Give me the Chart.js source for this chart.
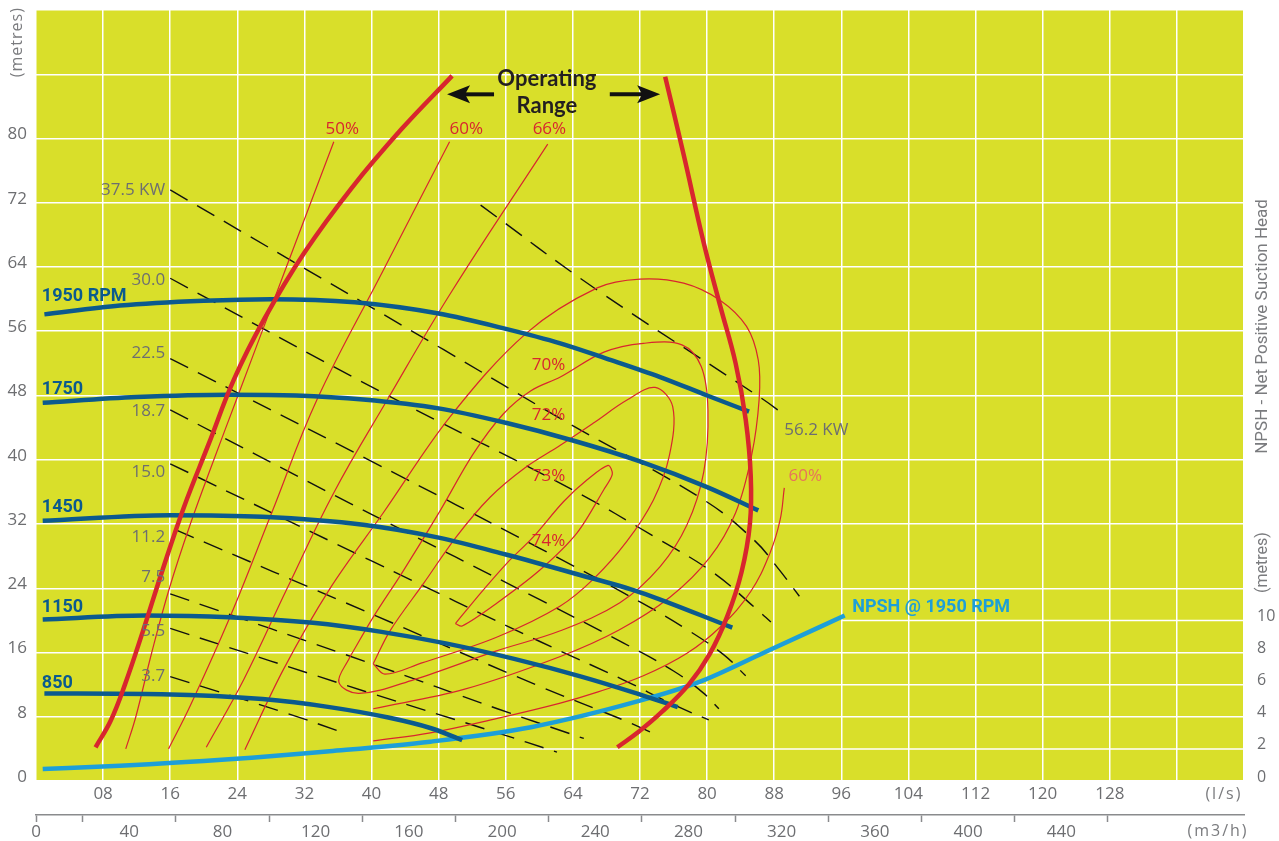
<!DOCTYPE html>
<html>
<head>
<meta charset="utf-8">
<title>Pump performance curve</title>
<script src="https://cdn.jsdelivr.net/npm/chart.js@4.4.1/dist/chart.umd.min.js"></script>
<style>
  html, body { margin: 0; padding: 0; background: #fff; }
  canvas { display: block; }
</style>
</head>
<body>
<canvas id="pump" width="1279" height="841"></canvas>
<script>
// axis ticks
const lsTicks   = [8, 16, 24, 32, 40, 48, 56, 64, 72, 80, 88, 96, 104, 112, 120, 128];
const m3hTicks  = [0, 40, 80, 120, 160, 200, 240, 280, 320, 360, 400, 440];
const m3hMarks  = [0, 20, 60, 100, 140, 180, 220, 260, 300, 340, 380, 420, 460];
const headTicks = [0, 8, 16, 24, 32, 40, 48, 56, 64, 72, 80];
const npshTicks = [0, 2, 4, 6, 8, 10];

// head curves, [flow l/s, head m]
const rpm1950 = [[1,58.1],[10,59.2],[20,59.8],[28,60],[38,59.6],[48,58.2],[56,56.3],[62.5,54.5],[68,52.6],[74.4,50.3],[80,48],[85,46]];
const rpm1750 = [[0.8,47.1],[12,47.8],[23,48.1],[31,48],[39,47.5],[48,46.4],[56,44.6],[64,42.4],[72,39.8],[80,36.6],[86.1,33.7]];
const rpm1450 = [[0.8,32.4],[16,33.1],[27,32.9],[39,31.9],[48,30.3],[56,28.2],[64,25.9],[72,23.5],[83,19.1]];
const rpm1150 = [[0.8,20.1],[13,20.6],[23,20.4],[33,19.7],[41,18.6],[49,17.1],[57,15.2],[65,13],[71,11.1],[76.5,9.2]];
const rpm850  = [[1,10.9],[15,10.8],[27,10.2],[35,9.2],[42,7.9],[47,6.6],[50.8,5.1]];

// NPSH @ 1950 rpm, [flow l/s, NPSH m]
const npsh1950 = [[0.8,0.75],[10,0.95],[23,1.35],[35,1.85],[47,2.45],[59,3.35],[72,5],[79,6.15],[87,8.05],[96.4,10.3]];

// operating range limits
const opLeft  = [[49.6,87.8],[43.6,81.2],[37.6,73.8],[32,65.8],[27.2,57.5],[23.6,50],[20.6,42],[17.6,34],[15,26],[12.7,18.5],[10.6,12],[8.9,7.5],[7.1,4.2]];
const opRight = [[75,87.7],[77.2,78],[79.6,67],[81.6,59],[83.4,52],[84.6,45],[85.2,38],[85.1,32],[84.1,26],[82.4,20.5],[80.3,15.8],[77.8,12],[74.6,8.6],[71.8,6.1],[69.3,4.2]];

// efficiency contours
const eff50  = [[35.5,79.6],[29.7,63.6],[23.9,47.5],[21.2,40],[18.4,32],[15.9,24],[13.8,16],[11.9,8],[10.7,4]];
const eff60  = [[49.3,79.6],[41.4,63.6],[33.5,47.5],[28.1,33.4],[23.2,20.6],[18.4,9.4],[15.8,4]];
const eff66  = [[61,79.3],[49.4,60.7],[41.9,47.5],[35.5,35.9],[29.9,23.9],[24.8,12.7],[20.3,4.2]];
const eff70  = [[24.9,3.9],[29.5,13.9],[35,23.9],[41.4,33.4],[49.4,45.4],[58.5,55.8],[66.9,61.4],[72,62.5],[77.2,62],[81.5,59.9],[84.7,56.6],[86.1,52.4],[86.2,47.5],[85.3,40.5],[83.4,33.4],[80.3,27.8],[75.6,22.9],[69.5,18.8],[62.5,15.5],[51,11.4],[40.2,9]];
const eff72  = [[37.4,15.4],[40.2,20.4],[43.8,26.2],[48.2,33.7],[52.1,40.7],[55.7,45.7],[59,48.6],[62.5,50.3],[67.7,53.4],[72.4,54.5],[77,54.3],[79.3,51.6],[80.1,46.2],[79.6,38.5],[77.6,31.9],[74.4,26.7],[69.6,22.2],[62.5,18.7],[54.9,16.2],[45,12.6],[38.5,10.9],[36.1,12.3],[37.4,15.4]];
const eff73  = [[40.2,14.6],[42.2,18.7],[46.2,24.6],[50.1,30.4],[54.1,35.3],[58.3,39],[62.5,41.8],[66.5,44.6],[70.4,47.4],[73.8,49],[75.9,46.6],[75.5,40.5],[73.6,35],[70.4,29.8],[66.5,25.2],[62.5,21.8],[54.9,17.9],[46,14.7],[41.6,13.3],[40.2,14.6]];
const eff74  = [[50,19.6],[53,23.4],[56.2,27.2],[59.2,30.3],[62.9,34.8],[65.7,37.5],[68.2,39.3],[68.7,38.2],[67.7,36.3],[64.5,30.9],[60.1,26.3],[55,22.2],[50.8,19.3],[50,19.6]];
const eff60r = [[40.2,5],[47,6],[55,7.8],[62.5,9.7],[67,11.1],[72.4,13.1],[77.6,15.9],[81.6,19.2],[85.2,23.6],[87.5,28.4],[88.7,32.5],[89.2,36.5]];

// absorbed power lines (kW)
const kw56 = [[53,71.7],[66.8,61.2],[86.7,47.5],[89.2,45.6]];
const kw37 = [[16,73.6],[48.6,53.7],[62.9,44.9],[79.6,35],[85.6,30],[88.3,26.7],[91,23]];
const kw30 = [[16,62.6],[41.4,48.3],[63.7,36.4],[74.4,30],[80.8,25.9],[86,21.3],[87.6,19.8]];
const kw22 = [[16,52.6],[40,39.8],[60,29],[72,22.3],[78,18.6],[82,15.7],[84.6,13.1]];
const kw18 = [[16,46.2],[40,33.2],[60,22.6],[70,17.2],[76,13.7],[79.5,11],[81.4,9]];
const kw15 = [[16,39.5],[40,27.4],[60,17.4],[70,12.6],[76,9.5],[80.2,7.6]];
const kw11 = [[16.6,31.3],[40,20.8],[60,11.8],[70,7.6],[74.3,5.6]];
const kw7  = [[16,23.3],[40,14.6],[55,9],[65.3,5.3]];
const kw5  = [[16,19],[40,10.9],[55,6],[62.1,3.6]];
const kw3  = [[16,13],[30,8.4],[36.4,6.1]];

const plotFill = '#d9df2a';
const red = '#d8262e';
const navy = '#0b5a8e';
const sky = '#1d9fd8';
const grey = '#6d6e71';
const sans = '"Open Sans", sans-serif';

function curve(points, color, width, extra) {
  return Object.assign({
    data: points.map(([x, y]) => ({ x, y })),
    showLine: true,
    borderColor: color,
    borderWidth: width,
    pointRadius: 0,
    tension: 0.4,
    fill: false
  }, extra || {});
}

const dash = { borderDash: [20, 11] };
const smooth = { cubicInterpolationMode: 'monotone' };
const datasets = [
  curve(opLeft, red, 4.5),
  curve(opRight, red, 4.5),
  curve(rpm1950, navy, 4.5, smooth),
  curve(rpm1750, navy, 4.5, smooth),
  curve(rpm1450, navy, 4.5, smooth),
  curve(rpm1150, navy, 4.5, smooth),
  curve(rpm850, navy, 4.5, smooth),
  curve(npsh1950, sky, 4.5, Object.assign({ yAxisID: 'y2' }, smooth)),
  curve(eff50, red, 1.2),
  curve(eff60, red, 1.2),
  curve(eff66, red, 1.2),
  curve(eff70, red, 1.2, { tension: 0.35 }),
  curve(eff72, red, 1.2, { tension: 0.35 }),
  curve(eff73, red, 1.2, { tension: 0.35 }),
  curve(eff74, red, 1.2, { tension: 0.3 }),
  curve(eff60r, red, 1.2),
  curve(kw56, '#111', 1.4, dash),
  curve(kw37, '#111', 1.4, dash),
  curve(kw30, '#111', 1.4, dash),
  curve(kw22, '#111', 1.4, dash),
  curve(kw18, '#111', 1.4, dash),
  curve(kw15, '#111', 1.4, dash),
  curve(kw11, '#111', 1.4, dash),
  curve(kw7, '#111', 1.4, dash),
  curve(kw5, '#111', 1.4, dash),
  curve(kw3, '#111', 1.4, dash)
];

// text annotations in data units (flow, head)
const notes = [
  { t: 'Operating', q: 60.9, h: 87.4, font: 'bold 22px Lato', color: '#231f20' },
  { t: 'Range', q: 60.9, h: 84.0, font: 'bold 22px Lato', color: '#231f20' },
  { t: '50%', q: 36.5, h: 81.2, font: '17px ' + sans, color: red },
  { t: '60%', q: 51.3, h: 81.2, font: '17px ' + sans, color: red },
  { t: '66%', q: 61.2, h: 81.2, font: '17px ' + sans, color: red },
  { t: '70%', q: 61.1, h: 51.8, font: '17px ' + sans, color: red },
  { t: '72%', q: 61.1, h: 45.6, font: '17px ' + sans, color: red },
  { t: '73%', q: 61.1, h: 38.0, font: '17px ' + sans, color: red },
  { t: '74%', q: 61.1, h: 29.9, font: '17px ' + sans, color: red },
  { t: '60%', q: 91.7, h: 37.9, font: '17px ' + sans, color: '#e8735a' },
  { t: '37.5 KW', q: 15.4, h: 73.6, font: '17px ' + sans, color: grey, align: 'right' },
  { t: '30.0', q: 15.4, h: 62.3, font: '17px ' + sans, color: grey, align: 'right' },
  { t: '22.5', q: 15.4, h: 53.3, font: '17px ' + sans, color: grey, align: 'right' },
  { t: '18.7', q: 15.4, h: 46.1, font: '17px ' + sans, color: grey, align: 'right' },
  { t: '15.0', q: 15.4, h: 38.4, font: '17px ' + sans, color: grey, align: 'right' },
  { t: '11.2', q: 15.4, h: 30.4, font: '17px ' + sans, color: grey, align: 'right' },
  { t: '7.5', q: 15.4, h: 25.4, font: '17px ' + sans, color: grey, align: 'right' },
  { t: '5.5', q: 15.4, h: 18.7, font: '17px ' + sans, color: grey, align: 'right' },
  { t: '3.7', q: 15.4, h: 13.1, font: '17px ' + sans, color: grey, align: 'right' },
  { t: '56.2 KW', q: 89.2, h: 43.7, font: '17px ' + sans, color: grey, align: 'left' },
  { t: '1950 RPM', q: 0.7, h: 60.3, font: 'bold 18px Roboto', color: navy, align: 'left' },
  { t: '1750', q: 0.7, h: 48.7, font: 'bold 18px Roboto', color: navy, align: 'left' },
  { t: '1450', q: 0.7, h: 34.1, font: 'bold 18px Roboto', color: navy, align: 'left' },
  { t: '1150', q: 0.7, h: 21.6, font: 'bold 18px Roboto', color: navy, align: 'left' },
  { t: '850', q: 0.7, h: 12.2, font: 'bold 18px Roboto', color: navy, align: 'left' },
  { t: 'NPSH @ 1950 RPM', q: 97.3, h: 21.6, font: 'bold 18px Roboto', color: sky, align: 'left' }
];
const arrows = [
  { from: [54.6, 85.5], to: [49.0, 85.5] },
  { from: [68.4, 85.5], to: [74.4, 85.5] }
];
// NPSH grid lines only run part way across: [npsh value, starting flow]
const npshGrid = [[2, 40], [6, 72], [10, 96]];

function rotText(ctx, text, x, y, font, spacing) {
  ctx.save();
  ctx.translate(x, y);
  ctx.rotate(-Math.PI / 2);
  ctx.font = font;
  ctx.letterSpacing = spacing || '0px';
  ctx.fillStyle = '#7a7b7e';
  ctx.textAlign = 'center';
  ctx.textBaseline = 'middle';
  ctx.fillText(text, 0, 0);
  ctx.restore();
}

const decor = {
  id: 'decor',
  beforeDraw(chart) {
    const { ctx, chartArea: a } = chart;
    ctx.save();
    ctx.fillStyle = plotFill;
    ctx.fillRect(a.left, a.top, a.right - a.left, a.bottom - a.top);
    ctx.restore();
  },
  beforeDatasetsDraw(chart) {
    const { ctx, scales: { x, y2 } } = chart;
    ctx.save();
    ctx.strokeStyle = '#fff';
    ctx.lineWidth = 1.5;
    npshGrid.forEach(([v, from]) => {
      const py = y2.getPixelForValue(v);
      ctx.beginPath();
      ctx.moveTo(x.getPixelForValue(from), py);
      ctx.lineTo(x.right, py);
      ctx.stroke();
    });
    ctx.restore();
  },
  afterDatasetsDraw(chart) {
    const { ctx, scales: { x, y } } = chart;
    ctx.save();
    notes.forEach(n => {
      ctx.font = n.font;
      ctx.fillStyle = n.color;
      ctx.textAlign = n.align || 'center';
      ctx.textBaseline = 'middle';
      ctx.fillText(n.t, x.getPixelForValue(n.q), y.getPixelForValue(n.h));
    });
    ctx.fillStyle = '#111';
    ctx.strokeStyle = '#111';
    arrows.forEach(a => {
      const x0 = x.getPixelForValue(a.from[0]), y0 = y.getPixelForValue(a.from[1]);
      const x1 = x.getPixelForValue(a.to[0]), y1 = y.getPixelForValue(a.to[1]);
      const dir = Math.sign(x1 - x0);
      ctx.beginPath();
      ctx.moveTo(x0, y0);
      ctx.lineTo(x1 - dir * 16, y1);
      ctx.lineWidth = 4;
      ctx.stroke();
      ctx.beginPath();
      ctx.moveTo(x1, y1);
      ctx.lineTo(x1 - dir * 23, y1 - 9);
      ctx.lineTo(x1 - dir * 18, y1);
      ctx.lineTo(x1 - dir * 23, y1 + 9);
      ctx.closePath();
      ctx.fill();
    });
    ctx.restore();
  },
  afterDraw(chart) {
    const { ctx, chartArea: a, scales: { x, y } } = chart;
    rotText(ctx, '(metres)', a.left - 19, y.getPixelForValue(92), '16px ' + sans, '1px');
    rotText(ctx, 'NPSH - Net Positive Suction Head', a.right + 19, y.getPixelForValue(56.6), '17px Roboto');
    rotText(ctx, '(metres)', a.right + 19, y.getPixelForValue(27.2), '16px Roboto');
    ctx.save();
    ctx.fillStyle = '#7a7b7e';
    ctx.font = '16px ' + sans;
    ctx.textAlign = 'center';
    ctx.textBaseline = 'middle';
    ctx.letterSpacing = '2px';
    ctx.fillText('(l/s)', x.getPixelForValue(141.6), a.bottom + 13);
    ctx.fillText('(m3/h)', x.getPixelForValue(140.9), a.bottom + 50);
    ctx.restore();
  }
};

const tickFont = { family: sans, size: 17 };
const noPadV = s => { s.paddingTop = 0; s.paddingBottom = 0; };
const noPadH = s => { s.paddingLeft = 0; s.paddingRight = 0; };

new Chart(document.getElementById('pump'), {
  type: 'scatter',
  data: { datasets },
  plugins: [decor],
  options: {
    responsive: false,
    animation: false,
    layout: { padding: { top: 10, left: 0, right: 0, bottom: 0 } },
    plugins: { legend: { display: false }, tooltip: { enabled: false } },
    scales: {
      x: {
        type: 'linear', position: 'bottom', weight: 0, min: 0, max: 144,
        grid: { color: '#fff', lineWidth: 1.5, drawTicks: false },
        border: { display: false },
        ticks: {
          stepSize: 8, autoSkip: false, maxRotation: 0, padding: 3, color: grey, font: tickFont,
          callback: v => lsTicks.includes(v) ? String(v).padStart(2, '0') : ''
        },
        afterFit: s => { s.height = 34; noPadH(s); }
      },
      x2: {
        type: 'linear', position: 'bottom', weight: 1, min: 0, max: 518.4,
        grid: {
          drawOnChartArea: false, drawTicks: true, tickLength: 7, tickWidth: 1.5,
          tickColor: c => m3hMarks.includes(c.tick.value) ? '#8a8b8d' : 'rgba(0,0,0,0)'
        },
        border: { display: true, color: '#8a8b8d', width: 1.5 },
        ticks: {
          stepSize: 20, autoSkip: false, maxRotation: 0, padding: 0, color: grey, font: tickFont,
          callback: v => m3hTicks.includes(v) ? String(v) : ''
        },
        afterFit: s => { s.height = 26; noPadH(s); }
      },
      y: {
        position: 'left', min: 0, max: 96,
        grid: { color: '#fff', lineWidth: 1.5, drawTicks: false },
        border: { display: false },
        ticks: {
          stepSize: 8, autoSkip: false, padding: 9, labelOffset: -4, color: grey, font: tickFont,
          callback: v => headTicks.includes(v) ? String(v) : ''
        },
        afterFit: s => { s.width = 36; noPadV(s); }
      },
      y2: {
        position: 'right', min: 0, max: 48,
        grid: { drawOnChartArea: false, drawTicks: false },
        border: { display: false },
        ticks: {
          stepSize: 2, autoSkip: false, padding: 13, labelOffset: -4, color: grey, font: { family: sans, size: 16 },
          callback: v => npshTicks.includes(v) ? String(v) : ''
        },
        afterFit: s => { s.width = 35; noPadV(s); }
      }
    }
  }
});
</script>
</body>
</html>
